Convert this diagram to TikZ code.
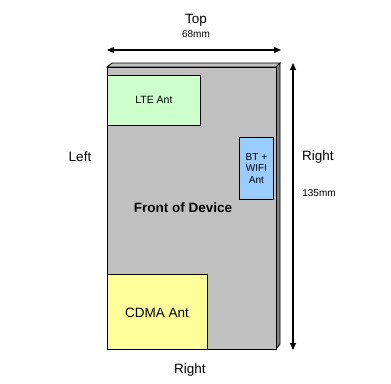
\documentclass[tikz,border=0pt]{standalone}
\usepackage{fontspec}
\setmainfont{Liberation Sans}
\usetikzlibrary{arrows.meta}
\definecolor{devgray}{HTML}{C0C0C0}
\definecolor{devdark}{HTML}{808080}
\definecolor{ltegreen}{HTML}{CCFFCC}
\definecolor{btblue}{HTML}{99CCFF}
\definecolor{cdmayel}{HTML}{FFFF99}
\tikzset{
  lbl/.style={inner sep=0pt, font=\fontsize{13.5bp}{15bp}\selectfont},
  small/.style={inner sep=0pt, font=\fontsize{10bp}{12bp}\selectfont},
  ant/.style={draw=black, line width=0.8bp, inner sep=0pt, anchor=north west},
  dim/.style={line width=1.2bp, {Triangle[length=7bp,width=6bp]}-{Triangle[length=7bp,width=6bp]}},
}
\begin{document}
\begin{tikzpicture}[x=1bp,y=-1bp]
\useasboundingbox (0,0) rectangle (391,384);
% device 3D sides
\filldraw[fill=devgray, draw=black, line width=0.8bp] (107,67) -- (112,63) -- (280,63) -- (276,67) -- cycle;
\filldraw[fill=devdark, draw=black, line width=0.8bp] (276,67) -- (280,63) -- (280,344) -- (276,349) -- cycle;
\node[draw=black, fill=devgray, line width=0.8bp, minimum width=169bp, minimum height=282bp, inner sep=0pt, anchor=north west] (front) at (107,67) {};
% antennas
\node[ant, fill=ltegreen, minimum width=93bp, minimum height=50bp] (lte) at (107,75) {};
\node[small, font=\fontsize{10.5bp}{12bp}\selectfont] at (lte.center) {LTE Ant};
\node[ant, fill=btblue, minimum width=34bp, minimum height=62bp] (bt) at (239,137) {};
\node[small, align=center, font=\fontsize{10bp}{11.5bp}\selectfont] at (bt.center) {BT +\\WIFI\\Ant};
\node[ant, fill=cdmayel, minimum width=100bp, minimum height=75bp] (cdma) at (107,274) {};
\node[lbl] at (157,313) {CDMA Ant};
\node[lbl, font=\bfseries\fontsize{13.5bp}{15bp}\selectfont] (fod) at (183,208) {Front of Device};
% labels
\node[lbl] (top) at (196,20) {Top};
\node[small] (w) at (196,34) {68mm};
\node[lbl] (left) at (80,157) {Left};
\node[lbl] (right) at (318,157) {Right};
\node[small] (h) at (319,193) {135mm};
\node[lbl] (bottom) at (190,370) {Right};
% dimension arrows
\coordinate (hl) at (107,50);
\coordinate (hr) at (281,50);
\coordinate (vt) at (293,63);
\coordinate (vb) at (293,350);
\draw[dim] (hl) -- (hr);
\draw[dim] (vt) -- (vb);
\end{tikzpicture}
\end{document}
